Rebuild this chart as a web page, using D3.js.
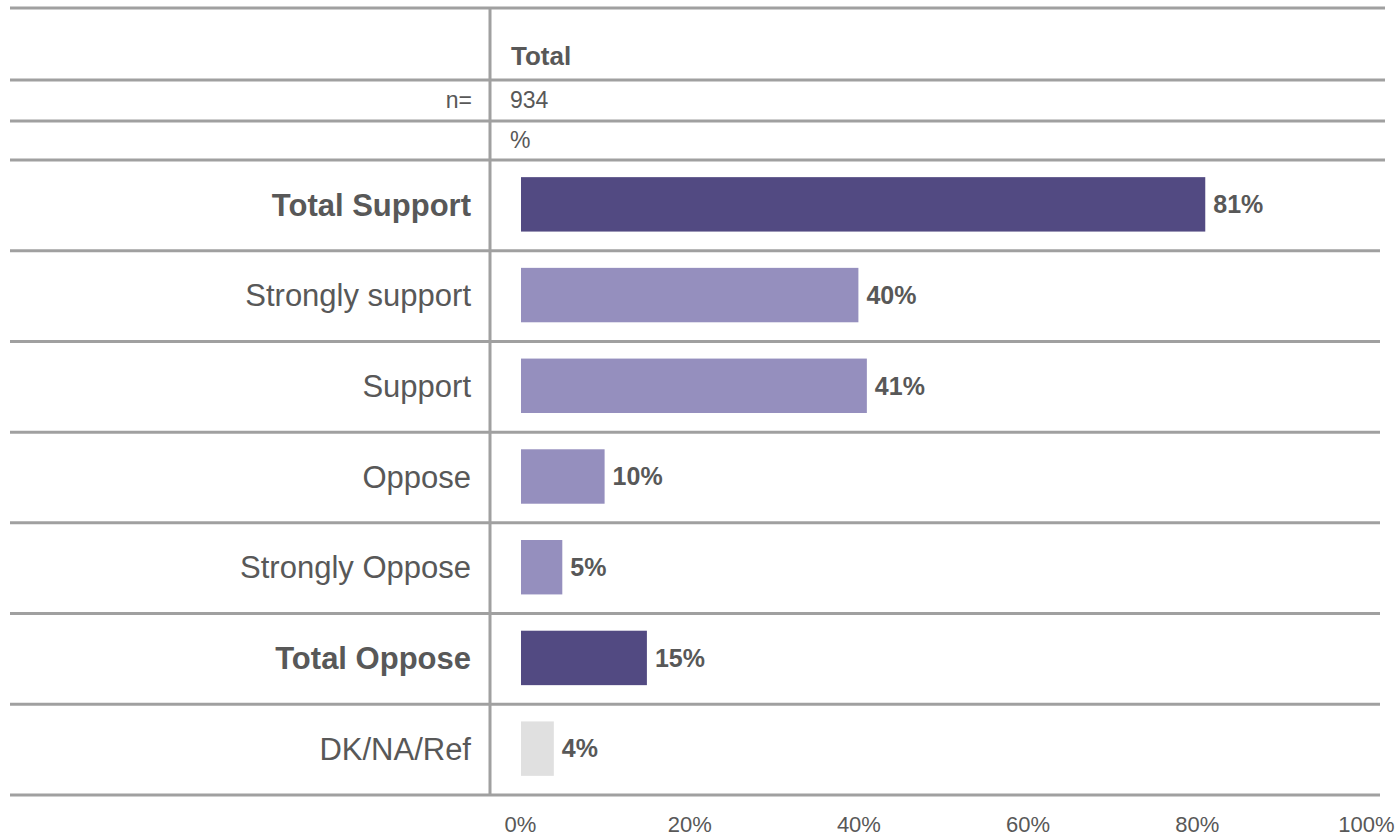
<!DOCTYPE html>
<html>
<head>
<meta charset="utf-8">
<script src="https://cdn.jsdelivr.net/npm/d3@7"></script>
<style>
  body { margin: 0; background: #fff; }
  text { font-family: "Liberation Sans", Arial, sans-serif; fill: #585858; }
</style>
</head>
<body>
<div id="chart"></div>
<script>
// DATA
const categories = ['Total Support', 'Strongly support', 'Support', 'Oppose', 'Strongly Oppose', 'Total Oppose', 'DK/NA/Ref'];
const values = [81, 40, 41, 10, 5, 15, 4];
const rowTypes = ['net', 'part', 'part', 'part', 'part', 'net', 'dk'];
const tickValues = [0, 20, 40, 60, 80, 100];
const columnTitle = 'Total';
const baseN = '934';

const width = 1399;
const height = 838;
const lineColor = '#a0a0a0';
const colors = { net: '#524a82', part: '#958fbe', dk: '#e0e0e0' };

const svg = d3.select('#chart').append('svg')
  .attr('width', width)
  .attr('height', height);

// SCALES
const x = d3.scaleLinear().domain([0, 100]).range([520, 1366]);
const y = d3.scaleBand().domain(categories).range([160, 795]);
const barH = y.bandwidth() * 0.6;

// HEADER TABLE
const hLines = [8, 80, 121, 160];
svg.selectAll('line.head')
  .data(hLines).enter()
  .append('line')
  .attr('x1', 10).attr('x2', 1385)
  .attr('y1', d => d).attr('y2', d => d)
  .attr('stroke', lineColor).attr('stroke-width', 3);

svg.append('text').attr('x', 511).attr('y', 65)
  .attr('font-size', 26).attr('font-weight', 'bold').text(columnTitle);
svg.append('text').attr('x', 472).attr('y', 108)
  .attr('font-size', 23).attr('text-anchor', 'end').text('n=');
svg.append('text').attr('x', 510).attr('y', 108)
  .attr('font-size', 23).text(baseN);
svg.append('text').attr('x', 510).attr('y', 148)
  .attr('font-size', 23).text('%');

// ROW SEPARATORS
svg.selectAll('line.row')
  .data(categories).enter()
  .append('line')
  .attr('x1', 10).attr('x2', 1380)
  .attr('y1', d => y(d) + y.bandwidth()).attr('y2', d => y(d) + y.bandwidth())
  .attr('stroke', lineColor).attr('stroke-width', 3);

// VERTICAL DIVIDER
svg.append('line')
  .attr('x1', 490).attr('x2', 490).attr('y1', 8).attr('y2', 795)
  .attr('stroke', lineColor).attr('stroke-width', 3);

// BARS
const rows = svg.selectAll('g.bar')
  .data(categories).enter()
  .append('g')
  .attr('transform', d => `translate(0, ${y(d) + y.bandwidth() / 2 - 1})`);

rows.append('rect')
  .attr('x', x(0) + 1)
  .attr('y', -barH / 2)
  .attr('width', (d, i) => x(values[i]) - x(0) - 1)
  .attr('height', barH)
  .attr('fill', (d, i) => colors[rowTypes[i]]);

rows.append('text')
  .attr('x', (d, i) => x(values[i]) + 8)
  .attr('dy', '0.35em')
  .attr('font-size', 25)
  .attr('font-weight', 'bold')
  .text((d, i) => values[i] + '%');

rows.append('text')
  .attr('x', 471)
  .attr('dy', '0.36em')
  .attr('text-anchor', 'end')
  .attr('font-size', 31)
  .attr('font-weight', (d, i) => rowTypes[i] === 'net' ? 'bold' : 'normal')
  .text(d => d);

// X AXIS
const axis = svg.append('g')
  .attr('transform', 'translate(0, 832)')
  .call(d3.axisBottom(x).tickValues(tickValues).tickFormat(d => d + '%').tickSize(0).tickPadding(0));
axis.select('.domain').remove();
axis.selectAll('text')
  .attr('dy', 0)
  .attr('font-size', 22)
  .attr('font-family', '"Liberation Sans", Arial, sans-serif')
  .attr('fill', '#585858');
</script>
</body>
</html>
